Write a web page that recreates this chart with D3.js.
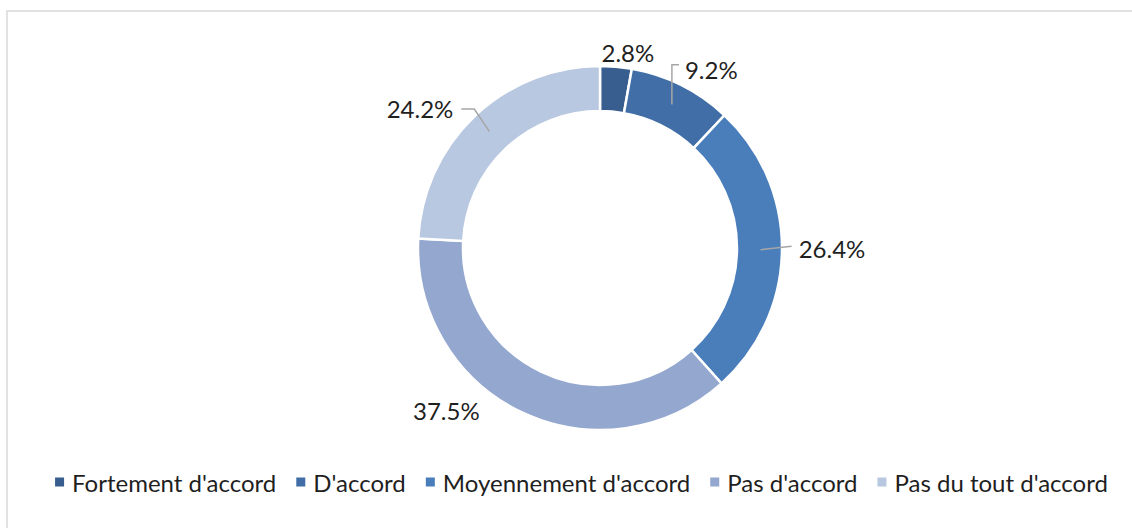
<!DOCTYPE html>
<html>
<head>
<meta charset="utf-8">
<script src="https://cdn.jsdelivr.net/npm/d3@7"></script>
<style>
  html, body { margin: 0; padding: 0; background: #fff; overflow: hidden; }
  text { font-family: Lato, "Open Sans", sans-serif; fill: #1f1f1f; }
</style>
</head>
<body>
<div id="chart"></div>
<script>
// DATA
const categories = ["Fortement d'accord", "D'accord", "Moyennement d'accord", "Pas d'accord", "Pas du tout d'accord"];
const shares = [2.8, 9.2, 26.4, 37.5, 24.2];
const colors = ["#375e8f", "#416ea6", "#4a7ebb", "#94a7cf", "#b8c8e0"];

// label nudges from the default outside spot, and leader style
const labelNudge = [[9, 19], [15, 14], [17, -2], [-61, -32], [-32, 16]];
const leaderType = ["none", "elbowV", "straight", "none", "elbowH"];

/***** SETUP *****/
const width = 1132, height = 528;
const cx = 600, cy = 248;
const outerR = 182, innerR = 137;
const fontSize = 24;

const svg = d3.select("#chart").append("svg")
    .attr("width", width)
    .attr("height", height);

// chart border
svg.append("rect")
    .attr("x", 7).attr("y", 11)
    .attr("width", 1300).attr("height", 700)
    .attr("fill", "none")
    .attr("stroke", "#d9d9d9")
    .attr("stroke-width", 1.5);

const data = categories.map((c, i) => ({name: c, value: shares[i], color: colors[i], i: i}));

const pie = d3.pie().sort(null).value(d => d.value);
const arcs = pie(data);

const arc = d3.arc().innerRadius(innerR).outerRadius(outerR);

const g = svg.append("g").attr("transform", `translate(${cx},${cy})`);

g.selectAll(".slice")
    .data(arcs)
    .enter()
    .append("path")
    .attr("class", "slice")
    .attr("d", arc)
    .attr("fill", d => d.data.color)
    .attr("stroke", "#fff")
    .attr("stroke-width", 2.5);

/***** LABELS *****/
const labelR = 215, midR = (innerR + outerR) / 2 + 1;
const polar = (a, r) => [r * Math.sin(a), -r * Math.cos(a)];

arcs.forEach((d, i) => {
    const mid = (d.startAngle + d.endAngle) / 2;
    const p = polar(mid, labelR);
    const lx = p[0] + labelNudge[i][0];
    const ly = p[1] + labelNudge[i][1];

    const t = g.append("text")
        .attr("x", lx).attr("y", ly)
        .attr("text-anchor", "middle")
        .attr("dominant-baseline", "central")
        .style("font-size", fontSize + "px")
        .text(d3.format(".1f")(d.data.value) + "%");
    const w = t.node().getComputedTextLength();

    const s = polar(mid, midR);
    let pts = null;
    if (leaderType[i] === "elbowV") {
        const end = [lx - w / 2 - 6, ly - 5];
        pts = [s, [s[0], end[1]], end];
    } else if (leaderType[i] === "elbowH") {
        const end = [lx + w / 2 + 8, ly + 1];
        pts = [s, [end[0] + 13, end[1]], end];
    } else if (leaderType[i] === "straight") {
        const end = [lx - w / 2 - 7, ly - 2];
        pts = [s, end];
    }
    if (pts) {
        g.append("path")
            .attr("d", d3.line()(pts))
            .attr("fill", "none")
            .attr("stroke", "#a6a6a6")
            .attr("stroke-width", 1.5);
    }
});

/***** LEGEND *****/
const legendY = 482, sq = 9, sqGap = 8, itemGap = 20;
const legend = svg.append("g");
let x0 = 0;
data.forEach(d => {
    legend.append("rect")
        .attr("x", x0).attr("y", legendY - sq / 2)
        .attr("width", sq).attr("height", sq)
        .attr("fill", d.color);
    const t = legend.append("text")
        .attr("x", x0 + sq + sqGap).attr("y", legendY)
        .attr("dominant-baseline", "central")
        .style("font-size", fontSize + "px")
        .text(d.name);
    x0 += sq + sqGap + t.node().getComputedTextLength() + itemGap;
});
const legendW = x0 - itemGap;
legend.attr("transform", `translate(${581.5 - legendW / 2},0)`);
</script>
</body>
</html>
